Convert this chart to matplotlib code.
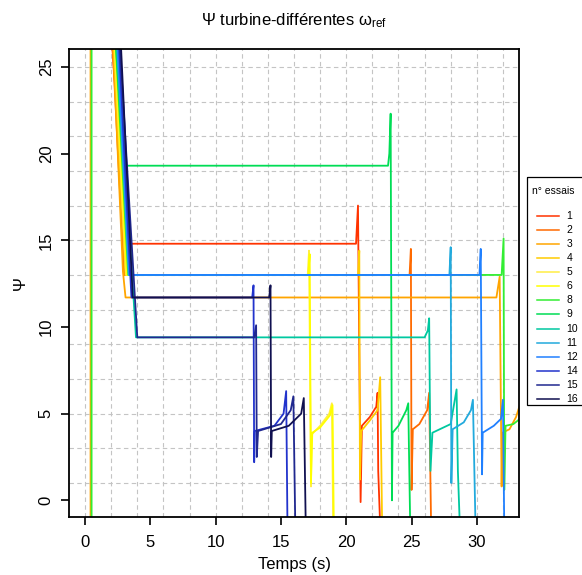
import numpy as np
import matplotlib.pyplot as plt
from matplotlib.patches import Rectangle

plt.rcParams['font.family'] = ['Liberation Sans', 'DejaVu Sans']
plt.rcParams['mathtext.fontset'] = 'custom'
plt.rcParams['mathtext.rm'] = 'Liberation Sans'
plt.rcParams['mathtext.it'] = 'Liberation Sans:italic'

# essais and their colours
essais = ['1', '2', '3', '4', '5', '6', '8', '9', '10', '11', '12', '14', '15', '16']
colors = ['#FF3300', '#FF6A00', '#FFA500', '#FFCC00', '#FFEE44', '#FFFF00', '#33EE33',
          '#00DD55', '#00C8A0', '#22AADD', '#2080FF', '#2233CC', '#202890', '#101050']

# key points (time in s, psi)
t_1 = [2.0, 3.2, 20.75, 20.9, 21.1, 21.2, 21.8, 22.3, 22.4, 22.45, 22.6]
psi_1 = [27, 14.8, 14.8, 17.0, -0.1, 4.3, 4.8, 5.4, 6.2, 1.7, -1.5]
t_2 = [2.05, 3.0, 24.85, 24.95, 25.0, 25.1, 25.6, 26.2, 26.35, 26.5]
psi_2 = [27, 13.0, 13.0, 14.5, 0.6, 4.1, 4.4, 5.2, 6.2, -1.5]
t_3 = [0.42, 0.42, 2.1, 2.9, 3.1, 31.5, 31.75, 31.9, 31.95, 32.5, 33.0, 33.3]
psi_3 = [-2, 30, 27, 13.2, 11.7, 11.7, 12.9, 0.8, 3.9, 4.1, 4.8, 5.5]
t_4 = [2.15, 3.1, 20.9, 21.0, 21.05, 21.15, 21.8, 22.4, 22.6, 22.75]
psi_4 = [27, 13.0, 13.0, 14.4, 1.2, 4.0, 4.6, 5.2, 7.1, -1.5]
t_5 = [2.2, 3.15, 17.05, 17.15, 17.3, 17.35, 18.0, 18.7, 18.9, 19.0]
psi_5 = [27, 13.0, 13.0, 14.4, 0.8, 3.8, 4.3, 5.0, 5.6, -1.5]
t_6 = [2.25, 3.2, 17.1, 17.2, 17.3, 17.4, 18.0, 18.75, 18.95, 19.05]
psi_6 = [27, 13.0, 13.0, 14.2, 1.0, 3.9, 4.2, 4.9, 5.5, -1.5]
t_8 = [0.5, 0.5, 2.3, 3.3, 31.9, 32.05, 32.1, 32.2, 32.8, 33.3]
psi_8 = [-2, 30, 27, 13.0, 13.0, 15.1, 0.6, 4.3, 4.4, 4.7]
t_9 = [2.3, 2.95, 23.2, 23.3, 23.4, 23.5, 23.55, 24.0, 24.6, 24.75, 24.8, 24.9]
psi_9 = [27, 19.3, 19.3, 20.0, 22.3, 0.0, 3.9, 4.3, 5.2, 5.6, 3.1, -1.5]
t_10 = [2.45, 3.9, 26.0, 26.25, 26.35, 26.45, 26.6, 28.0, 28.45, 28.55, 28.7]
psi_10 = [27, 9.4, 9.4, 9.8, 10.5, 1.7, 3.9, 4.4, 6.4, 1.7, -1.5]
t_11 = [2.4, 3.35, 27.9, 28.0, 28.05, 28.15, 29.0, 29.55, 29.7, 29.9]
psi_11 = [27, 13.0, 13.0, 14.6, 1.0, 4.1, 4.5, 5.2, 5.8, -1.5]
t_12 = [2.45, 3.4, 30.2, 30.3, 30.4, 30.45, 31.3, 31.85, 32.0, 32.1]
psi_12 = [27, 13.0, 13.0, 14.5, 1.5, 3.9, 4.3, 4.7, 5.8, -1.5]
t_14 = [2.55, 3.55, 12.8, 12.9, 12.95, 13.0, 14.5, 15.2, 15.4, 15.5]
psi_14 = [27, 11.7, 11.7, 12.4, 2.2, 4.0, 4.3, 5.0, 6.3, -1.5]
t_15 = [2.6, 4.0, 12.95, 13.1, 13.15, 13.25, 15.0, 15.75, 15.95, 16.1]
psi_15 = [27, 9.4, 9.4, 10.1, 2.5, 4.0, 4.4, 5.2, 6.0, -1.5]
t_16 = [2.7, 3.65, 14.1, 14.2, 14.25, 14.3, 15.6, 16.55, 16.75, 16.9]
psi_16 = [27, 11.7, 11.7, 12.4, 2.5, 4.0, 4.3, 5.0, 5.9, -1.5]

series = [(t_1, psi_1), (t_2, psi_2), (t_3, psi_3), (t_4, psi_4), (t_5, psi_5),
          (t_6, psi_6), (t_8, psi_8), (t_9, psi_9), (t_10, psi_10), (t_11, psi_11),
          (t_12, psi_12), (t_14, psi_14), (t_15, psi_15), (t_16, psi_16)]

W, H = 582, 575
fig = plt.figure(figsize=(W / 100, H / 100), dpi=100)
ax = fig.add_axes([69 / W, 1 - 517 / H, (519 - 69) / W, (517 - 49) / H])

# dashed grid
for gx in np.arange(0, 33, 2):
    ax.axvline(gx, color='#C4C4C4', lw=0.8, ls=(0, (4, 3)), zorder=0)
for gy in np.arange(1, 26, 2):
    ax.axhline(gy, color='#C4C4C4', lw=0.8, ls=(0, (4, 3)), zorder=0)

for (t, psi), c, lab in zip(series, colors, essais):
    ax.plot(t, psi, color=c, lw=1.3, label=lab, zorder=2)

ax.set_xlim(-1.23, 33.23)
ax.set_ylim(-0.96, 26.03)
ax.set_xticks(np.arange(0, 31, 5))
ax.set_yticks(np.arange(0, 26, 5))
ax.tick_params(direction='out', length=6, width=1.2, labelsize=12)
ax.tick_params(axis='x', pad=7)
ax.tick_params(axis='y', pad=5)
for lbl in ax.get_yticklabels():
    lbl.set_rotation(90)
    lbl.set_va('center')
for sp in ax.spines.values():
    sp.set_linewidth(1.3)

ax.set_xlabel('Temps (s)', fontsize=12, labelpad=5)
ax.set_ylabel('Ψ', fontsize=12, labelpad=8)
fig.text(0.5 * (69 + 519) / W, 1 - 21 / H, 'Ψ turbine-différentes ω$_{\\mathrm{ref}}$',
         ha='center', va='center', fontsize=12)

# legend box, partly cut by the right edge
lax = fig.add_axes([526 / W, 1 - 405 / H, 70 / W, (405 - 176) / H])
lax.set_xlim(0, 70)
lax.set_ylim(229, 0)
lax.axis('off')
lax.add_patch(Rectangle((0.5, 0.5), 200, 228, fill=False, lw=0.9, ec='black', clip_on=False))
lax.text(6.0, 14.7, 'n° essais', fontsize=7.5, va='center', ha='left')
for i, (c, lab) in enumerate(zip(colors, essais)):
    y = 39.7 + i * 14.1
    lax.plot([10.5, 33], [y, y], color=c, lw=1.1)
    lax.text(40.5, y, lab, fontsize=7.5, va='center', ha='left')

fig.savefig('out.png', dpi=100)
